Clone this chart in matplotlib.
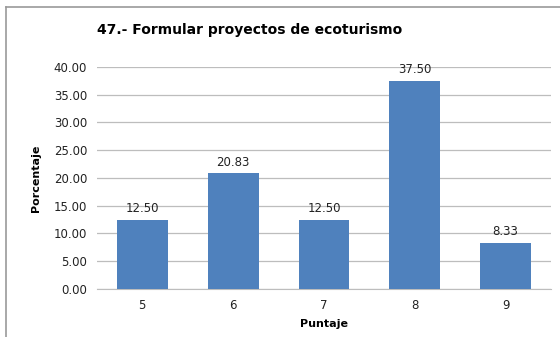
import matplotlib.pyplot as plt

puntaje = ["5", "6", "7", "8", "9"]
porcentaje = [12.50, 20.83, 12.50, 37.50, 8.33]
yticks = [0, 5, 10, 15, 20, 25, 30, 35, 40]

plt.rcParams['font.family'] = ['DejaVu Sans']

fig = plt.figure(figsize=(5.6, 3.37), dpi=100)
ax = fig.add_axes([0.173, 0.1424, 0.811, 0.659])

x = range(len(puntaje))
bars = ax.bar(x, porcentaje, width=0.56, color="#4F81BD", zorder=3)
for b, v in zip(bars, porcentaje):
    ax.text(b.get_x() + b.get_width() / 2, v + 0.8, f"{v:.2f}",
            ha="center", va="bottom", fontsize=8.5, color="#222222")

ax.set_xlim(-0.5, 4.5)
ax.set_ylim(0, 40)
ax.set_yticks(yticks)
ax.set_yticklabels([f"{t:.2f}" for t in yticks], fontsize=8.5, color="#222222")
ax.set_xticks(list(x))
ax.set_xticklabels(puntaje, fontsize=8.5, color="#222222")
ax.tick_params(axis="both", length=0, pad=7)
ax.yaxis.grid(True, color="#bdbdbd", linewidth=0.9, zorder=0)
for s in ["left", "right", "top"]:
    ax.spines[s].set_visible(False)
ax.spines["bottom"].set_color("#bdbdbd")

ax.set_ylabel("Porcentaje", fontsize=8, fontweight="bold", labelpad=9)
ax.set_xlabel("Puntaje", fontsize=8, fontweight="bold", labelpad=5)

fig.text(0.446, 0.91, "47.- Formular proyectos de ecoturismo", ha="center",
         va="center", fontsize=10, fontweight="bold")

# outer frame: left and top edges only
fig.add_artist(plt.Line2D([6 / 560, 6 / 560], [0, 1 - 7 / 337], color="#999999", lw=1.2))
fig.add_artist(plt.Line2D([6 / 560, 1], [1 - 7 / 337, 1 - 7 / 337], color="#999999", lw=1.2))

fig.savefig("out.png", dpi=100)
